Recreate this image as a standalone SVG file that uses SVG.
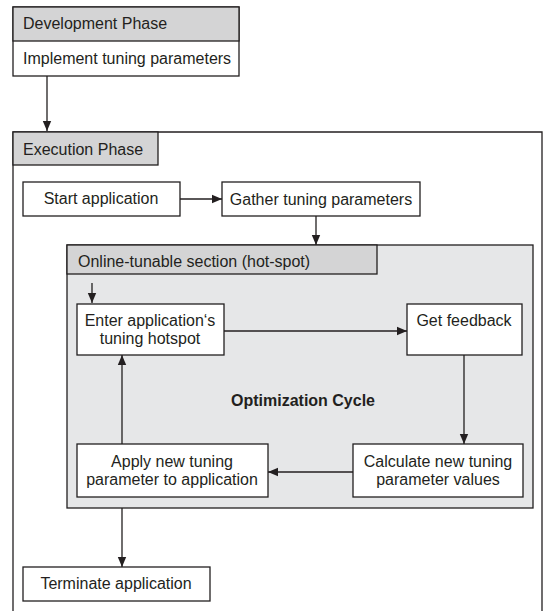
<svg xmlns="http://www.w3.org/2000/svg" width="544" height="611" viewBox="0 0 544 611">
<style>
text{font-family:"Liberation Sans",Arial,sans-serif;font-size:16px;fill:#231f20}
.c{text-anchor:middle}
.b{font-weight:bold}
.box{fill:#fff;stroke:#231f20;stroke-width:1.3}
.hdr{fill:#d4d4d5;stroke:#231f20;stroke-width:1.3}
.sec{fill:#e6e7e8;stroke:#231f20;stroke-width:1.3}
.ln{fill:none;stroke:#231f20;stroke-width:1.3}
</style>
<defs>
<marker id="ah" viewBox="0 0 10 10" refX="10" refY="5" markerWidth="10" markerHeight="10" markerUnits="userSpaceOnUse" orient="auto">
<path d="M0,0.8 L10,5 L0,9.2 z" fill="#231f20"/>
</marker>
</defs>
<g id="development">
<rect class="box" x="13" y="7" width="226" height="69"/>
<rect class="hdr" x="13" y="7" width="226" height="34"/>
<text x="23" y="29">Development Phase</text>
<text x="23" y="64">Implement tuning parameters</text>
</g>
<g id="execution">
<path class="ln" d="M13,640 V132 H542 V640"/>
<rect class="hdr" x="13" y="132" width="145" height="33"/>
<text x="23" y="155">Execution Phase</text>
</g>
<g id="start">
<rect class="box" x="23" y="182" width="157" height="34"/>
<text class="c" x="101" y="204">Start application</text>
</g>
<g id="gather">
<rect class="box" x="222" y="182" width="198" height="34"/>
<text class="c" x="321" y="205">Gather tuning parameters</text>
</g>
<g id="online">
<rect class="sec" x="67" y="245" width="466" height="263"/>
<rect class="hdr" x="67" y="245" width="310" height="29"/>
<text x="78" y="267">Online-tunable section (hot-spot)</text>
<text class="c b" x="303" y="406">Optimization Cycle</text>
</g>
<g id="enter">
<rect class="box" x="77" y="304" width="147" height="51"/>
<text class="c" x="150" y="326">Enter application‘s</text>
<text class="c" x="150" y="344">tuning hotspot</text>
</g>
<g id="feedback">
<rect class="box" x="407" y="304" width="115" height="51"/>
<text class="c" x="464" y="326">Get feedback</text>
</g>
<g id="calculate">
<rect class="box" x="353" y="444" width="170" height="53"/>
<text class="c" x="438" y="467">Calculate new tuning</text>
<text class="c" x="438" y="485">parameter values</text>
</g>
<g id="apply">
<rect class="box" x="77" y="444" width="191" height="53"/>
<text class="c" x="172" y="467">Apply new tuning</text>
<text class="c" x="172" y="485">parameter to application</text>
</g>
<g id="terminate">
<rect class="box" x="23" y="567" width="187" height="34"/>
<text class="c" x="116" y="589">Terminate application</text>
</g>
<g id="connectors">
<line class="ln" x1="47" y1="76" x2="47" y2="131" marker-end="url(#ah)"/>
<line class="ln" x1="180" y1="199" x2="222" y2="199" marker-end="url(#ah)"/>
<line class="ln" x1="316" y1="216" x2="316" y2="245" marker-end="url(#ah)"/>
<line class="ln" x1="92" y1="283" x2="92" y2="303" marker-end="url(#ah)"/>
<line class="ln" x1="224" y1="331" x2="407" y2="331" marker-end="url(#ah)"/>
<line class="ln" x1="464" y1="355" x2="464" y2="444" marker-end="url(#ah)"/>
<line class="ln" x1="353" y1="472" x2="268" y2="472" marker-end="url(#ah)"/>
<line class="ln" x1="122" y1="444" x2="122" y2="355" marker-end="url(#ah)"/>
<line class="ln" x1="122" y1="508" x2="122" y2="567" marker-end="url(#ah)"/>
</g>
</svg>
